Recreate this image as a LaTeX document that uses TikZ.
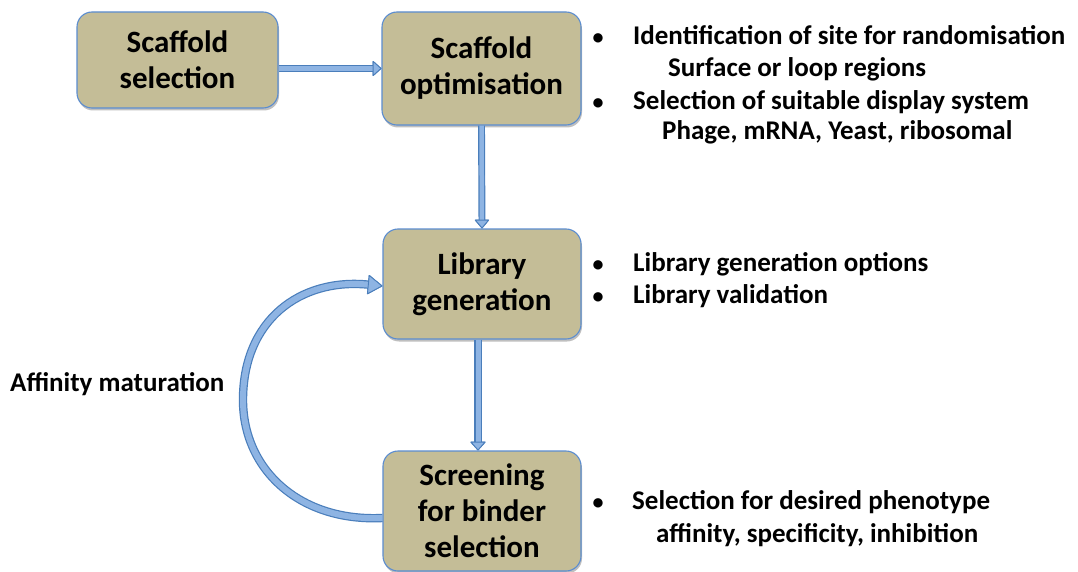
\documentclass[tikz,border=0pt]{standalone}
\usepackage{fontspec}
\setmainfont{Carlito}
\usetikzlibrary{shadows,arrows.meta}
\definecolor{boxfill}{HTML}{C4BD97}
\definecolor{boxline}{HTML}{5B8DD0}
\definecolor{arlight}{HTML}{8EB4E3}
\definecolor{ardark}{HTML}{4A7EBB}
\tikzset{
  box/.style={draw=boxline, line width=1.1pt, fill=boxfill, rounded corners=15pt,
    inner sep=0pt, align=center, font=\fontsize{31}{36}\selectfont\bfseries,
    drop shadow={shadow xshift=1pt, shadow yshift=-2.5pt, opacity=0.25, fill=black}},
  side/.style={inner sep=0pt, font=\fontsize{27}{33}\selectfont\bfseries},
  blockarrow/.style n args={3}{line width=#1, draw=arlight,
    -{Triangle[width=#3, length=#2, fill=arlight, color=ardark, line width=0.9pt, round=false]},
    preaction={draw=ardark, line width=#1+2.4pt}}
}
\begin{document}
\begin{tikzpicture}[x=1pt,y=-1pt]
\useasboundingbox (0,0) rectangle (1078,572);
\fill[white] (0,0) rectangle (1078,572);

\node[box, minimum width=201pt, minimum height=96pt] (b1) at (177.5,60) {Scaffold\\selection};
\node[box, minimum width=199pt, minimum height=113pt] (b2) at (481.5,68.5) {Scaffold\\optimisation};
\node[box, minimum width=198pt, minimum height=110pt] (b3) at (482,284) {Library\\generation};
\node[box, minimum width=198pt, minimum height=120pt] (b4) at (482,511) {Screening\\for binder\\selection};

% straight arrows
\draw[blockarrow={5pt}{9pt}{16pt}] (b1.east |- b2.west) -- (b2.west);
\draw[blockarrow={4.5pt}{9pt}{15pt}] (b2.south) -- (b3.north);
\draw[blockarrow={5pt}{9pt}{16pt}] ([xshift=-4pt]b3.south) -- ([xshift=-4pt]b4.north);

% curved arrow
\coordinate (cstart) at ([yshift=-7pt]b4.west);
\coordinate (cend) at ([yshift=-2pt]b3.west);
\draw[blockarrow={6pt}{15pt}{20pt}]
  (cstart) .. controls (300,522) and (243,470) .. (243,400)
  .. controls (243,320) and (300,278) .. (cend);

% side text
\node[side, anchor=base west] (aff) at (10,391) {Affinity maturation};

\node[side, anchor=base] (u1) at (598,45) {\fontsize{22}{22}\selectfont •};
\node[side, anchor=base west] (t1) at (633,45) {Identification of site for randomisation};
\node[side, anchor=base west] (t1s) at (668,77) {Surface or loop regions};
\node[side, anchor=base] (u2) at (598,110) {\fontsize{22}{22}\selectfont •};
\node[side, anchor=base west] (t2) at (633,110) {Selection of suitable display system};
\node[side, anchor=base west] (t2s) at (662,140) {Phage, mRNA, Yeast, ribosomal};

\node[side, anchor=base] (u3) at (598,271) {\fontsize{22}{22}\selectfont •};
\node[side, anchor=base west] (t3) at (633,271) {Library generation options};
\node[side, anchor=base] (u4) at (598,303) {\fontsize{22}{22}\selectfont •};
\node[side, anchor=base west] (t4) at (633,303) {Library validation};

\node[side, anchor=base] (u5) at (598,509) {\fontsize{22}{22}\selectfont •};
\node[side, anchor=base west] (t5) at (632,509) {Selection for desired phenotype};
\node[side, anchor=base west] (t5s) at (656,542) {affinity, specificity, inhibition};
\end{tikzpicture}
\end{document}
